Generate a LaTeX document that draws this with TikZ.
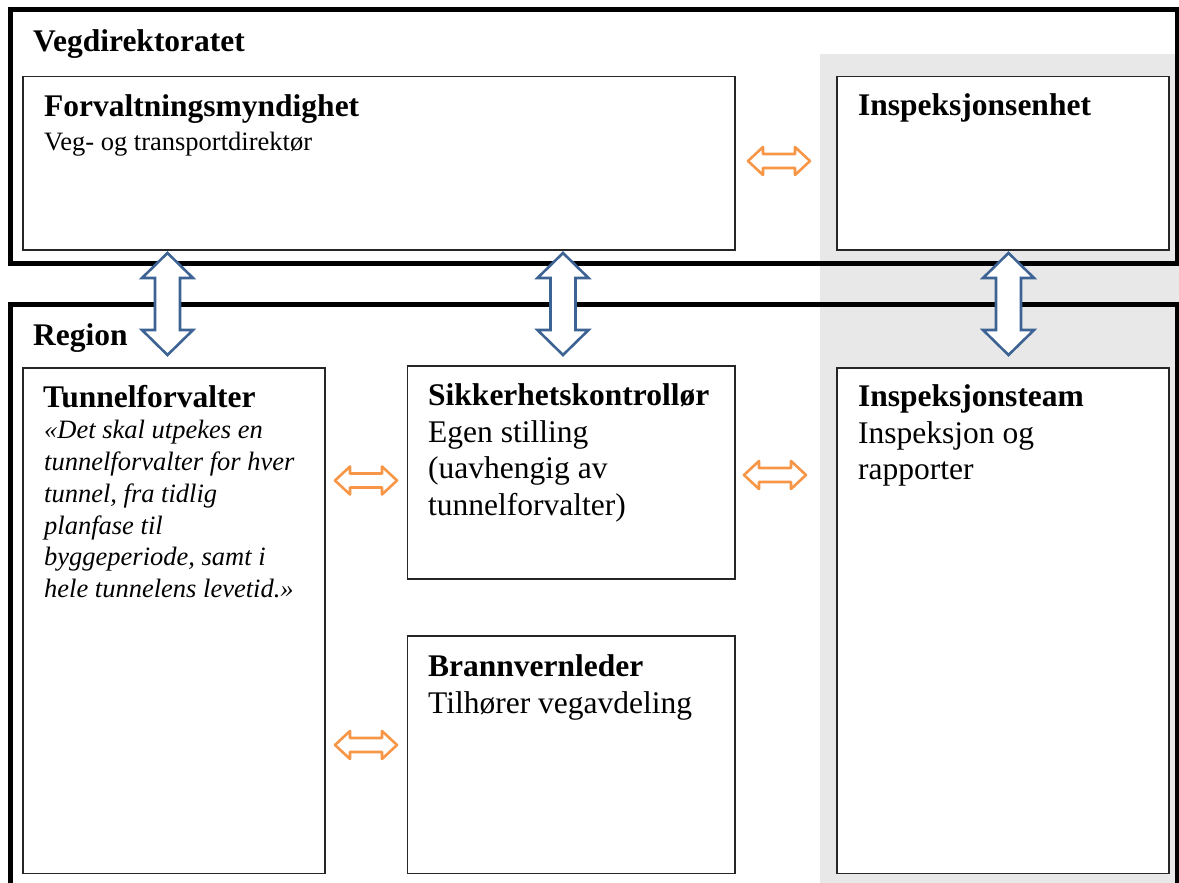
\documentclass[tikz,border=0pt]{standalone}
\usepackage{fontspec}
\setmainfont{Liberation Serif}
\definecolor{bggray}{HTML}{E8E8E8}
\definecolor{barrow}{HTML}{3C6394}
\definecolor{oarrow}{HTML}{F79646}
\tikzset{
 outerframe/.style={draw=black, line width=5pt, inner sep=0pt},
 innerbox/.style={draw=black!85, line width=1.4pt, fill=white, inner sep=0pt},
 ttl/.style={anchor=base west, inner sep=0pt, font=\fontsize{31.5}{36.6}\selectfont\bfseries},
 body/.style={anchor=base west, inner sep=0pt, align=left, font=\fontsize{31.5}{36.6}\selectfont},
 small/.style={anchor=base west, inner sep=0pt, align=left, font=\fontsize{26.5}{31.9}\selectfont},
 vblock/.style={draw=barrow, fill=white, line width=2.6pt, line join=miter},
 hblock/.style={draw=oarrow, fill=white, line width=2.6pt, line join=round},
}
% vertical hollow double arrow centred on a named coordinate
\newcommand{\vbarrow}[1]{%
  \draw[vblock] (#1) ++(0,-51) -- ++(25.5,25) -- ++(-13,0) -- ++(0,52) -- ++(13,0)
    -- ++(-25.5,25) -- ++(-25.5,-25) -- ++(13,0) -- ++(0,-52) -- ++(-13,0) -- cycle;}
% horizontal hollow double arrow centred on a named coordinate
\newcommand{\hoarrow}[1]{%
  \draw[hblock] (#1) ++(-31,0) -- ++(15,-14) -- ++(0,7) -- ++(32,0) -- ++(0,-7)
    -- ++(15,14) -- ++(-15,14) -- ++(0,-7) -- ++(-32,0) -- ++(0,7) -- cycle;}
\begin{document}
\begin{tikzpicture}[x=1pt, y=-1pt]
\useasboundingbox (0,0) rectangle (1179,883);
\clip (0,0) rectangle (1179,883);
% grey column
\fill[bggray] (820,54) rectangle (1179,883);
% outer frames
\node[outerframe, minimum width=1167pt, minimum height=253.5pt] (vd) at (593.5,136.25) {};
\draw[outerframe] (10,950) -- (10,304) -- (1177,304) -- (1177,950);
\coordinate (region) at (10,304);
% inner boxes
\node[innerbox, minimum width=712pt, minimum height=173.5pt] (forv) at (379,163.25) {};
\node[innerbox, minimum width=332pt, minimum height=173.5pt] (insp) at (1003,163.25) {};
\node[innerbox, minimum width=302pt, minimum height=505.5pt] (tunn) at (174,620.75) {};
\node[innerbox, minimum width=327.5pt, minimum height=213pt] (sikk) at (571.25,472.5) {};
\node[innerbox, minimum width=327.5pt, minimum height=237.5pt] (brann) at (571.25,754.75) {};
\node[innerbox, minimum width=332pt, minimum height=505.5pt] (team) at (1003,620.75) {};
% texts (multi-line nodes: base = last line)
\node[ttl] (tvd) at (33,52) {Vegdirektoratet};
\node[ttl] (tforv) at (44,116.5) {Forvaltningsmyndighet};
\node[small] (sforv) at (44,150) {Veg- og transportdirektør};
\node[ttl] (tinsp) at (858,116) {Inspeksjonsenhet};
\node[ttl] (treg) at (33,345) {Region};
\node[ttl] (ttunn) at (43,407) {Tunnelforvalter};
\node[small, font=\fontsize{26.5}{31.9}\selectfont\itshape] (stunn) at (44,597.8)
  {«Det skal utpekes en\\tunnelforvalter for hver\\tunnel, fra tidlig\\planfase til\\byggeperiode, samt i\\hele tunnelens levetid.»};
\node[ttl] (tsikk) at (428,405) {Sikkerhetskontrollør};
\node[body] (ssikk) at (428,515.2) {Egen stilling\\(uavhengig av\\tunnelforvalter)};
\node[ttl] (tbrann) at (428,676) {Brannvernleder};
\node[body] (sbrann) at (428,713) {Tilhører vegavdeling};
\node[ttl] (tteam) at (858,406) {Inspeksjonsteam};
\node[body] (steam) at (858,479.6) {Inspeksjon og\\rapporter};
% block arrows between the boxes
\coordinate (v1) at (167.5,304);
\coordinate (v2) at (563,304);
\coordinate (v3) at (1008.5,304);
\coordinate (h1) at (779,161);
\coordinate (h2) at (366,480.5);
\coordinate (h3) at (775,475);
\coordinate (h4) at (366,745);
\vbarrow{v1}
\vbarrow{v2}
\vbarrow{v3}
\hoarrow{h1}
\hoarrow{h2}
\hoarrow{h3}
\hoarrow{h4}
\end{tikzpicture}
\end{document}
